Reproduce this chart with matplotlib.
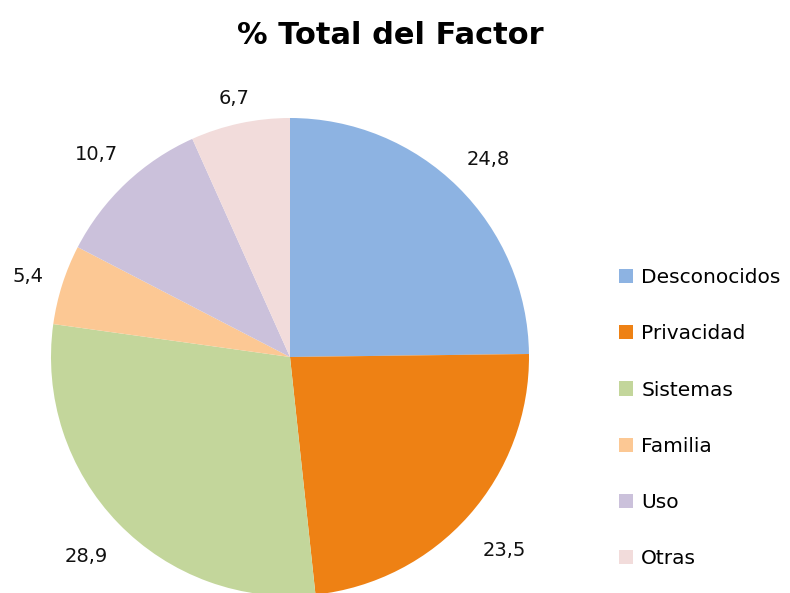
import matplotlib
matplotlib.use("Agg")
import numpy as np
import matplotlib.pyplot as plt
from matplotlib.patches import Patch

categories = ["Desconocidos", "Privacidad", "Sistemas", "Familia", "Uso", "Otras"]
values = [24.8, 23.5, 28.9, 5.4, 10.7, 6.7]
value_labels = ["24,8", "23,5", "28,9", "5,4", "10,7", "6,7"]
colors = ["#8DB3E2", "#EE8114", "#C3D69B", "#FCC894", "#CBC1DB", "#F2DCDB"]
label_dist = [1.18, 1.2, 1.185, 1.15, 1.18, 1.12]

W, H = 790, 593
fig = plt.figure(figsize=(W / 100, H / 100), dpi=100)

cx, cy, r = 290, 357, 239
ax = fig.add_axes([(cx - r) / W, (H - cy - r) / H, 2 * r / W, 2 * r / H])
wedges, _ = ax.pie(values, colors=colors, startangle=90, counterclock=False,
                   wedgeprops=dict(linewidth=0))
for w, lab, d in zip(wedges, value_labels, label_dist):
    ang = np.deg2rad((w.theta1 + w.theta2) / 2)
    ax.text(d * np.cos(ang), d * np.sin(ang) - 0.012, lab, ha="center", va="center",
            fontsize=14, family="DejaVu Sans", color="#111111")
ax.set_xlim(-1, 1)
ax.set_ylim(-1, 1)
ax.set_aspect("equal")
ax.axis("off")

fig.text(390 / W, 1 - 35 / H, "% Total del Factor", ha="center", va="center",
         fontsize=22, fontweight="bold", family="DejaVu Sans")

handles = [Patch(facecolor=c, edgecolor="none") for c in colors]
fig.legend(handles, categories, loc="upper left", bbox_to_anchor=(619 / W, 1 - 268 / H),
           frameon=False, handlelength=0.7, handleheight=0.7,
           handletextpad=0.4, labelspacing=1.85, borderaxespad=0, borderpad=0,
           prop=dict(family="DejaVu Sans", size=14.5))

fig.savefig("out.png", dpi=100)
